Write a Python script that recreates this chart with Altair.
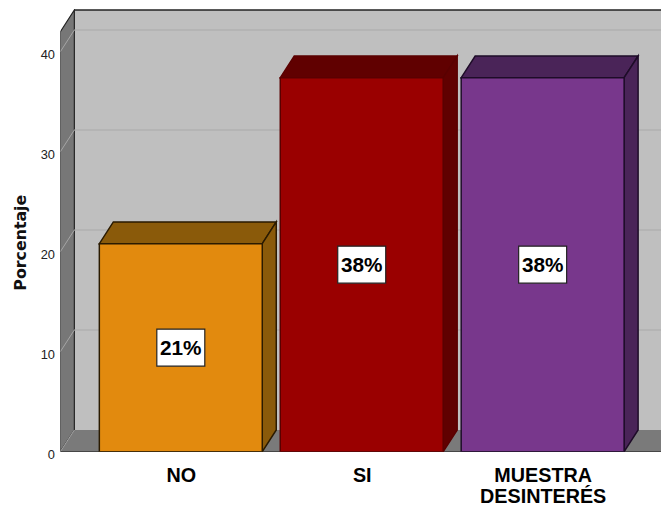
import altair as alt
import pandas as pd

categories = ["NO", "SI", "MUESTRA DESINTERÉS"]
values = [20.8, 37.4, 37.4]
percent_labels = ["21%", "38%", "38%"]
front_colors = ["#e28a0e", "#9a0000", "#78378c"]
shade_colors = ["#8a5a0a", "#600000", "#4a2458"]
edge_colors = ["#2a1a00", "#5a0000", "#1e0c28"]
y_ticks = [0, 10, 20, 30, 40]

W, H = 608, 448         # plot-area size
XMAX, YMAX = 600.9, 44.26
DX, DV = 14, 2.17       # depth of the 3D box
WALL_TOP = 42.0
BAR_W, BAR_STEP, BAR_START = 163, 181, 39
cat_centres = [BAR_START + i * BAR_STEP + BAR_W / 2 for i in range(3)]

xs = alt.Scale(domain=[0, XMAX], nice=False, zero=False)
ys = alt.Scale(domain=[0, YMAX], nice=False, zero=False)

x_axis = alt.Axis(
    values=cat_centres,
    title=None,
    labelExpr="datum.value < 200 ? 'NO' : datum.value < 400 ? 'SI' : ['MUESTRA', 'DESINTERÉS']",
    labelFont="Liberation Sans",
    labelFontSize=20,
    labelFontWeight="bold",
    labelColor="#000000",
    labelPadding=14,
    labelLineHeight=21,
    labelOverlap=False,
    labelFlush=False,
    ticks=False,
    domain=False,
    grid=False,
)
y_axis = alt.Axis(
    values=y_ticks,
    title="Porcentaje",
    titleFont="DejaVu Sans",
    titleFontSize=16,
    titleFontWeight="bold",
    titleColor="#111111",
    titleX=-32,
    titleY=236,
    labelFont="Liberation Sans",
    labelFontSize=13,
    labelColor="#222222",
    labelPadding=6,
    labelOffset=3,
    ticks=False,
    domain=False,
    grid=False,
)


def X(f):
    return alt.X(f, scale=xs, axis=x_axis, title=None)


def Y(f):
    return alt.Y(f, scale=ys, axis=y_axis, title="Porcentaje")


def face(rows, fill, stroke=None, sw=1.5):
    df = pd.DataFrame(rows, columns=["x", "lo", "hi"])
    kw = dict(fill=fill, clip=True, interpolate="linear")
    if stroke:
        kw.update(stroke=stroke, strokeWidth=sw)
    else:
        kw.update(strokeWidth=0)
    return alt.Chart(df).mark_area(**kw).encode(x=X("x:Q"), y=Y("lo:Q"), y2="hi:Q")


def para_top(x0, x1, v):
    return [(x0, v, v), (x0 + DX, v, v + DV), (x1, v, v + DV), (x1 + DX, v + DV, v + DV)]


def para_side(x, v0, v1):
    return [(x, v0, v1), (x + DX, v0 + DV, v1 + DV)]


def seg(rows, color, sw):
    df = pd.DataFrame(rows, columns=["x", "y", "k"])
    return alt.Chart(df).mark_line(color=color, strokeWidth=sw, clip=True).encode(
        x=X("x:Q"), y=Y("y:Q"), detail="k:N"
    )


layers = []

# walls and floor
layers.append(face([(DX, DV, WALL_TOP + DV), (XMAX, DV, WALL_TOP + DV)], "#bfbfbf"))
layers.append(face(para_side(0, 0, WALL_TOP), "#777777", "#222222", 1.2))
layers.append(face(para_top(0, 603, 0), "#7a7a7a"))
layers.append(seg([(DX, WALL_TOP + DV, "t"), (XMAX, WALL_TOP + DV, "t")], "#222222", 1.5))
layers.append(seg([(0, 0, "b"), (603, 0, "b")], "#222222", 1.5))

# gridlines
back, diag = [], []
for t in y_ticks[1:]:
    back += [(DX, t + DV, t), (XMAX, t + DV, t)]
for t in y_ticks:
    diag += [(0, t, t), (DX, t + DV, t)]
layers.append(seg(back, "#b0b0b0", 1.5))
layers.append(seg(diag, "#a6a6a6", 1))

# bars
for i, v in enumerate(values):
    x0 = BAR_START + i * BAR_STEP
    x1 = x0 + BAR_W
    e = edge_colors[i]
    layers.append(face(para_top(x0, x1, v), shade_colors[i], e))
    layers.append(face(para_side(x1, 0, v), shade_colors[i], e))
    layers.append(face([(x0, 0, v), (x1, 0, v)], front_colors[i], e))

# labels
lab = pd.DataFrame({
    "cx": cat_centres,
    "cy": [v / 2 for v in values],
    "t": percent_labels,
})
lab["x0"] = lab.cx - 24
lab["x1"] = lab.cx + 24
lab["y0"] = lab.cy - 1.85
lab["y1"] = lab.cy + 1.85
layers.append(
    alt.Chart(lab).mark_rect(fill="white", stroke="#222222", strokeWidth=1.2).encode(
        x=X("x0:Q"), x2="x1:Q", y=Y("y0:Q"), y2="y1:Q"
    )
)
layers.append(
    alt.Chart(lab).mark_text(font="Liberation Sans", fontSize=21, fontWeight="bold", color="#000000", dy=1).encode(
        x=X("cx:Q"), y=Y("cy:Q"), text="t:N"
    )
)

chart = alt.layer(*layers).resolve_scale(x="shared", y="shared").properties(
    width=W,
    height=H,
    autosize=alt.AutoSizeParams(type="none"),
    padding={"left": 53, "top": -2, "right": 0, "bottom": 59},
    background="white",
).configure_view(stroke=None)

chart.save("out.html", embed_options={"renderer": "svg", "actions": False})
